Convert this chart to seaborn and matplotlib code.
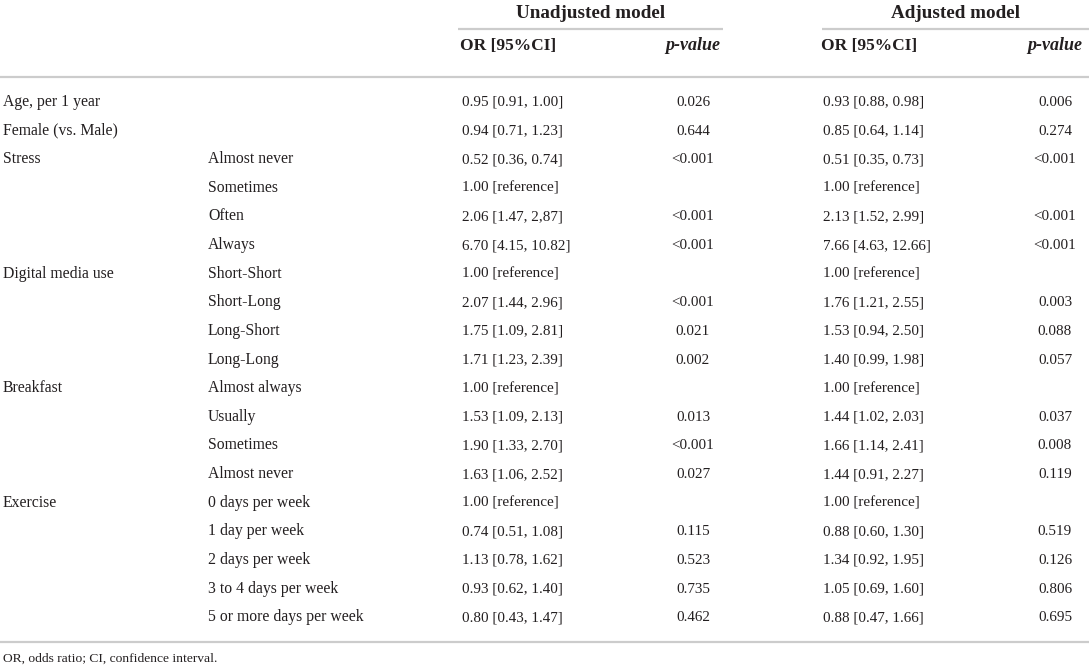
import matplotlib
matplotlib.use("Agg")
import matplotlib.pyplot as plt
import seaborn as sns

# table content
variables = ["Age, per 1 year", "Female (vs. Male)", "Stress", "", "", "",
             "Digital media use", "", "", "", "Breakfast", "", "", "",
             "Exercise", "", "", "", ""]
levels = ["", "", "Almost never", "Sometimes", "Often", "Always",
          "Short-Short", "Short-Long", "Long-Short", "Long-Long",
          "Almost always", "Usually", "Sometimes", "Almost never",
          "0 days per week", "1 day per week", "2 days per week",
          "3 to 4 days per week", "5 or more days per week"]
or_unadj = ["0.95 [0.91, 1.00]", "0.94 [0.71, 1.23]", "0.52 [0.36, 0.74]",
            "1.00 [reference]", "2.06 [1.47, 2,87]", "6.70 [4.15, 10.82]",
            "1.00 [reference]", "2.07 [1.44, 2.96]", "1.75 [1.09, 2.81]",
            "1.71 [1.23, 2.39]", "1.00 [reference]", "1.53 [1.09, 2.13]",
            "1.90 [1.33, 2.70]", "1.63 [1.06, 2.52]", "1.00 [reference]",
            "0.74 [0.51, 1.08]", "1.13 [0.78, 1.62]", "0.93 [0.62, 1.40]",
            "0.80 [0.43, 1.47]"]
p_unadj = ["0.026", "0.644", "<0.001", "", "<0.001", "<0.001", "", "<0.001",
           "0.021", "0.002", "", "0.013", "<0.001", "0.027", "", "0.115",
           "0.523", "0.735", "0.462"]
or_adj = ["0.93 [0.88, 0.98]", "0.85 [0.64, 1.14]", "0.51 [0.35, 0.73]",
          "1.00 [reference]", "2.13 [1.52, 2.99]", "7.66 [4.63, 12.66]",
          "1.00 [reference]", "1.76 [1.21, 2.55]", "1.53 [0.94, 2.50]",
          "1.40 [0.99, 1.98]", "1.00 [reference]", "1.44 [1.02, 2.03]",
          "1.66 [1.14, 2.41]", "1.44 [0.91, 2.27]", "1.00 [reference]",
          "0.88 [0.60, 1.30]", "1.34 [0.92, 1.95]", "1.05 [0.69, 1.60]",
          "0.88 [0.47, 1.66]"]
p_adj = ["0.006", "0.274", "<0.001", "", "<0.001", "<0.001", "", "0.003",
         "0.088", "0.057", "", "0.037", "0.008", "0.119", "", "0.519",
         "0.126", "0.806", "0.695"]
groups = ["Unadjusted model", "Adjusted model"]
subheads = ["OR [95%CI]", "p-value"]
footnote = "OR, odds ratio; CI, confidence interval."

sns.set_theme(style="white")
plt.rcParams['font.family'] = ['Liberation Serif', 'DejaVu Serif']

W, H = 1089, 668
fig = plt.figure(figsize=(W / 100, H / 100), dpi=100)
ax = fig.add_axes([0, 0, 1, 1])
ax.set_xlim(0, W)
ax.set_ylim(H, 0)
ax.axis('off')

txt = '#231f20'
rule = '#cccccc'
fs_lab = 11.3   # row labels
fs_num = 10.9   # numbers

# header
group_spans = [(458, 723), (822, 1089)]
for g, (x0, x1) in zip(groups, group_spans):
    ax.text((x0 + x1) / 2, 17.5, g, ha='center', va='baseline', fontsize=13.8,
            fontweight='bold', color=txt)
    ax.hlines(29, x0, x1, color=rule, lw=1.6)

or_x = [462, 823]
p_x = [693, 1055]
for ox, px in zip(or_x, p_x):
    ax.text(ox - 2, 49.5, subheads[0], ha='left', va='baseline', fontsize=12.5,
            fontweight='bold', color=txt)
    ax.text(px, 49.5, subheads[1], ha='center', va='baseline', fontsize=13,
            fontweight='bold', style='italic', color=txt)

ax.hlines(77, 0, W, color=rule, lw=1.6)

y0, dy = 106, 28.62
for i in range(len(levels)):
    y = y0 + i * dy
    ax.text(3, y, variables[i], ha='left', va='baseline', fontsize=fs_lab, color=txt)
    ax.text(208, y, levels[i], ha='left', va='baseline', fontsize=fs_lab, color=txt)
    ax.text(or_x[0], y, or_unadj[i], ha='left', va='baseline', fontsize=fs_num, color=txt)
    ax.text(p_x[0], y, p_unadj[i], ha='center', va='baseline', fontsize=fs_num, color=txt)
    ax.text(or_x[1], y, or_adj[i], ha='left', va='baseline', fontsize=fs_num, color=txt)
    ax.text(p_x[1], y, p_adj[i], ha='center', va='baseline', fontsize=fs_num, color=txt)

ax.hlines(642, 0, W, color=rule, lw=1.6)
ax.text(3, 662, footnote, ha='left', va='baseline', fontsize=9.7, color=txt)

fig.savefig('out.png', dpi=100)
